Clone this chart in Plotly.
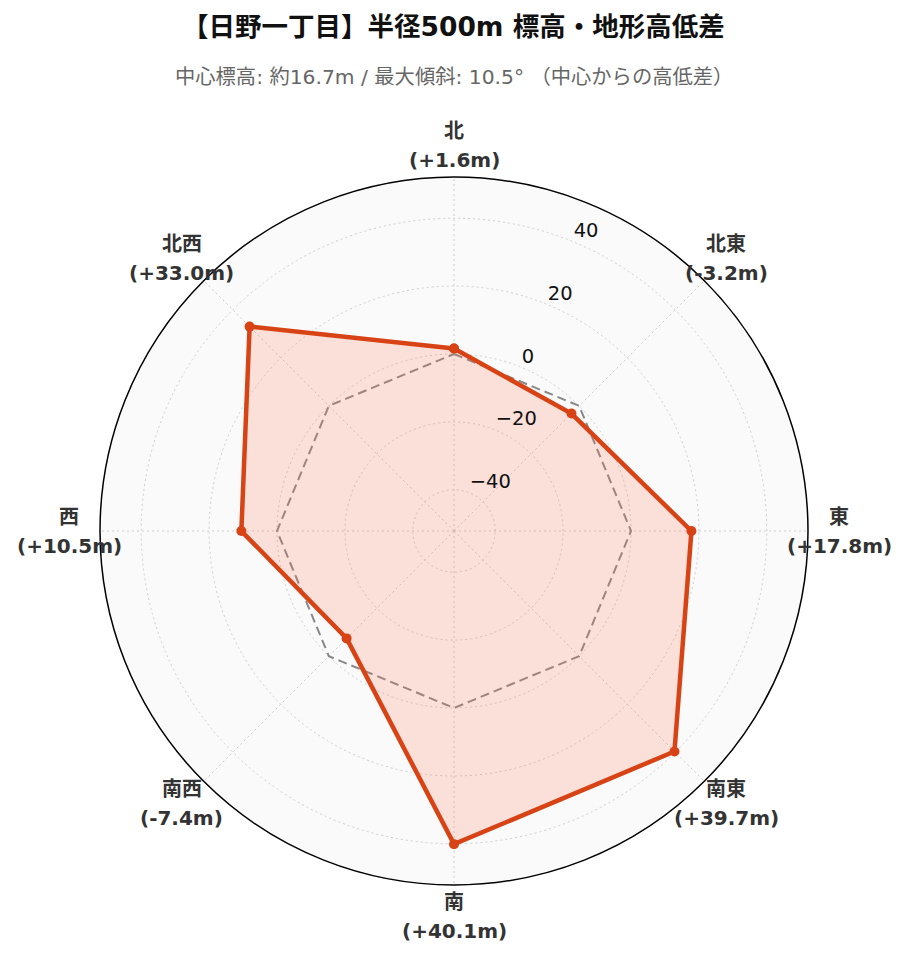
import math
import plotly.graph_objects as go

directions = ["北", "北東", "東", "南東", "南", "南西", "西", "北西"]
diffs = [1.6, -3.2, 17.8, 39.7, 40.1, -7.4, 10.5, 33.0]
baseline = [0, 0, 0, 0, 0, 0, 0, 0]
radial_ticks = [-40, -20, 0, 20, 40]
radial_tick_text = ["\u221240", "\u221220", "0", "20", "40"]

angles = [i * 360 / len(directions) for i in range(len(directions))]
max_abs = max(abs(v) for v in diffs) * 1.3
label_angle = 22.5

W, H = 907, 962
OFF = 8                      # page body margin offset
CX, CY, RAD = 454 - OFF, 531 - OFF, 354
HALF = RAD
L, T = CX - HALF, CY - HALF
R, B = W - CX - HALF, H - CY - HALF
PW, PH = W - L - R, H - T - B


def px(x):
    return (x - L) / PW


def py(y):
    return (H - B - y) / PH


fig = go.Figure()
fig.add_trace(go.Scatterpolar(
    r=baseline + [baseline[0]], theta=angles + [angles[0]], mode="lines",
    line=dict(color="#888888", width=2, dash="9px,5px"), hoverinfo="skip", showlegend=False,
))
fig.add_trace(go.Scatterpolar(
    r=diffs + [diffs[0]], theta=angles + [angles[0]], mode="lines+markers",
    fill="toself", fillcolor="rgba(255,115,85,0.2)",
    line=dict(color="#d84315", width=4.5), marker=dict(size=10, color="#d84315"),
    showlegend=False,
))
fig.add_trace(go.Scatterpolar(
    r=radial_ticks, theta=[label_angle] * len(radial_ticks), mode="text",
    text=radial_tick_text, textposition="top right", cliponaxis=False,
    textfont=dict(size=19.5, color="#111", family="DejaVu Sans"),
    hoverinfo="skip", showlegend=False,
))

annotations = [
    dict(text="<b>【日野一丁目】半径500m 標高・地形高低差</b>", x=px(453.5 - OFF), y=py(27 - OFF),
         font=dict(size=26.5, color="#111")),
    dict(text="中心標高: 約16.7m / 最大傾斜: 10.5° （中心からの高低差）", x=px(453.5 - OFF), y=py(77 - OFF),
         font=dict(size=20.3, color="#666")),
]
LR = 385
for d, v, a in zip(directions, diffs, angles):
    cx = CX + LR * math.sin(math.radians(a))
    cy = CY - LR * math.cos(math.radians(a))
    annotations.append(dict(text=f"<b>{d}</b>", x=px(cx), y=py(cy - 14.5),
                            font=dict(size=20, color="#333")))
    annotations.append(dict(text=f"<b>({v:+.1f}m)</b>", x=px(cx), y=py(cy + 14.5),
                            font=dict(size=20, color="#333")))
for a in annotations:
    a.update(xref="paper", yref="paper", xanchor="center", yanchor="middle", showarrow=False)

fig.update_layout(
    width=W, height=H,
    margin=dict(l=L, r=R, t=T, b=B, autoexpand=False),
    paper_bgcolor="white",
    font=dict(family="DejaVu Sans, Noto Sans CJK JP", color="#333"),
    polar=dict(
        bgcolor="#fafafa",
        radialaxis=dict(
            range=[-max_abs, max_abs], tickvals=radial_ticks, showticklabels=False,
            showline=False, gridcolor="#cccccc", griddash="2px,3px", gridwidth=1, ticks="",
        ),
        angularaxis=dict(
            type="linear", thetaunit="degrees", direction="clockwise", rotation=90,
            tickvals=angles, showticklabels=False,
            showline=True, linecolor="black", linewidth=1.5,
            gridcolor="#cccccc", griddash="2px,3px", ticks="",
        ),
    ),
    annotations=annotations,
)

fig.write_html("out.html")
